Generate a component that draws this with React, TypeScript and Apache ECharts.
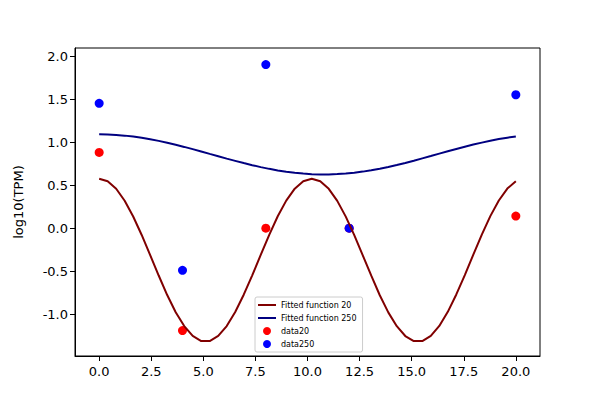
import React, { useEffect, useRef } from "react";
import * as echarts from "echarts";

const curveX: number[] = Array.from({ length: 50 }, (_, i) => +(i * 20 / 49).toFixed(4));

const fit20: number[] = [
  0.575, 0.545, 0.458, 0.318, 0.136, -0.079, -0.313, -0.550, -0.777, -0.976,
  -1.137, -1.252, -1.312, -1.311, -1.252, -1.137, -0.974, -0.773, -0.548, -0.311,
  -0.077, 0.138, 0.320, 0.459, 0.546, 0.575, 0.545, 0.457, 0.317, 0.134,
  -0.081, -0.315, -0.552, -0.779, -0.978, -1.139, -1.253, -1.312, -1.311, -1.251,
  -1.136, -0.972, -0.770, -0.545, -0.308, -0.075, 0.140, 0.321, 0.460, 0.546,
];

const fit250: number[] = [
  1.090, 1.088, 1.083, 1.075, 1.064, 1.050, 1.033, 1.014, 0.993, 0.969,
  0.944, 0.918, 0.891, 0.863, 0.836, 0.808, 0.782, 0.756, 0.732, 0.709,
  0.689, 0.671, 0.655, 0.643, 0.634, 0.627, 0.624, 0.624, 0.628, 0.635,
  0.644, 0.657, 0.673, 0.691, 0.711, 0.734, 0.758, 0.784, 0.811, 0.838,
  0.866, 0.893, 0.920, 0.946, 0.971, 0.994, 1.016, 1.035, 1.051, 1.065,
];

const dataX: number[] = [0, 4, 8, 12, 20];
const data20: number[] = [0.88, -1.19, 0.0, 0.0, 0.14];
const data250: number[] = [1.45, -0.49, 1.9, 0.0, 1.55];

const xTicks: number[] = [0, 2.5, 5, 7.5, 10, 12.5, 15, 17.5, 20];
const yTicks: number[] = [-1, -0.5, 0, 0.5, 1, 1.5, 2];

const FONT = "DejaVu Sans";

export default function App() {
  const ref = useRef<HTMLDivElement>(null);
  useEffect(() => {
    if (!ref.current) return;
    const chart = echarts.init(ref.current, null, { renderer: "svg" });
    const pair = (xs: number[], ys: number[]) => xs.map((x, i) => [x, ys[i]]);
    chart.setOption({
      animation: false,
      backgroundColor: "#ffffff",
      textStyle: { fontFamily: FONT },
      grid: {
        left: 75,
        right: 60,
        top: 48,
        bottom: 44,
        show: true,
        borderColor: "#000",
        borderWidth: 1,
        containLabel: false,
      },
      xAxis: {
        type: "value",
        min: -1.16,
        max: 21.16,
        splitLine: { show: false },
        axisLine: { show: true, onZero: false, lineStyle: { color: "#000", width: 1 } },
        axisTick: {
          show: true,
          inside: false,
          length: 5,
          customValues: xTicks,
          lineStyle: { color: "#000", width: 1 },
        },
        axisLabel: {
          customValues: xTicks,
          formatter: (v: number) => v.toFixed(1),
          color: "#000",
          fontSize: 13,
          fontFamily: FONT,
          margin: 9,
        },
      },
      yAxis: {
        type: "value",
        min: -1.485,
        max: 2.093,
        name: "log10(TPM)",
        nameLocation: "middle",
        nameGap: 50,
        nameTextStyle: { color: "#000", fontSize: 13, fontFamily: FONT },
        splitLine: { show: false },
        axisLine: { show: true, onZero: false, lineStyle: { color: "#000", width: 1 } },
        axisTick: {
          show: true,
          inside: false,
          length: 5,
          customValues: yTicks,
          lineStyle: { color: "#000", width: 1 },
        },
        axisLabel: {
          customValues: yTicks,
          formatter: (v: number) => v.toFixed(1),
          color: "#000",
          fontSize: 13,
          fontFamily: FONT,
          margin: 7,
        },
      },
      legend: {
        orient: "vertical",
        left: 255,
        top: 297,
        width: 105,
        padding: [4, 6, 4, 2],
        itemWidth: 18,
        itemHeight: 8,
        itemGap: 5,
        borderColor: "#cccccc",
        borderWidth: 1,
        borderRadius: 2,
        backgroundColor: "rgba(255,255,255,0.8)",
        textStyle: { fontSize: 8, color: "#000", fontFamily: FONT, lineHeight: 8 },
        data: [
          { name: "Fitted function 20", itemStyle: { opacity: 0 } },
          { name: "Fitted function 250", itemStyle: { opacity: 0 } },
          { name: "data20", icon: "circle" },
          { name: "data250", icon: "circle" },
        ],
      },
      series: [
        {
          name: "data20",
          type: "scatter",
          z: 1,
          symbolSize: 9,
          itemStyle: { color: "#ff0000", opacity: 1 },
          data: pair(dataX, data20),
        },
        {
          name: "data250",
          type: "scatter",
          z: 1,
          symbolSize: 9,
          itemStyle: { color: "#0000ff", opacity: 1 },
          data: pair(dataX, data250),
        },
        {
          name: "Fitted function 20",
          type: "line",
          z: 3,
          symbol: "none",
          lineStyle: { color: "#800000", width: 2 },
          itemStyle: { color: "#800000" },
          data: pair(curveX, fit20),
        },
        {
          name: "Fitted function 250",
          type: "line",
          z: 3,
          symbol: "none",
          smooth: false,
          lineStyle: { color: "#000080", width: 2 },
          itemStyle: { color: "#000080" },
          data: pair(curveX, fit250),
        },
      ],
    });
    return () => chart.dispose();
  }, []);
  return (
    <div
      ref={ref}
      style={{ position: "fixed", left: 0, top: 0, width: 600, height: 400, background: "#fff" }}
    />
  );
}
